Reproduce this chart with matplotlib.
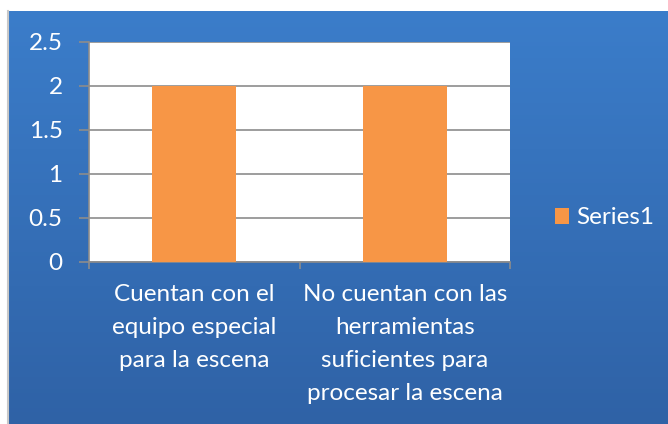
import matplotlib
matplotlib.use("Agg")
import matplotlib.pyplot as plt
import numpy as np
from matplotlib.colors import LinearSegmentedColormap

categories = ["Cuentan con el\nequipo especial\npara la escena",
              "No cuentan con las\nherramientas\nsuficientes para\nprocesar la escena"]
values = [2, 2]
series_name = "Series1"
yticks = [0, 0.5, 1, 1.5, 2, 2.5]
ytick_labels = ["0", "0.5", "1", "1.5", "2", "2.5"]

W, H = 668, 424
fig = plt.figure(figsize=(W/100, H/100), dpi=100)
fig.patch.set_facecolor("white")

# gradient background
bg = fig.add_axes([9/W, 0, 1-9/W, (H-11)/H])
cmap = LinearSegmentedColormap.from_list("bl", ["#3B7DCA", "#2F62A6"])
grad = np.linspace(0, 1, 256).reshape(-1, 1)
bg.imshow(grad, aspect="auto", cmap=cmap, extent=[0, 1, 0, 1], origin="upper")
bg.set_axis_off()
fig.add_artist(plt.Line2D([8/W, 8/W], [0, (H-11)/H], color="#C8C8C8", lw=1.5, transform=fig.transFigure))

font = "Lato"
fs = 17.5
ax = fig.add_axes([89/W, (H-262)/H, (510-89)/W, (262-42)/H])
ax.set_facecolor("white")
x = np.arange(len(categories))
bars = ax.bar(x, values, width=0.4, color="#F79646", label=series_name, zorder=3)
ax.set_xlim(-0.5, 1.5)
ax.set_ylim(0, 2.5)
ax.set_yticks(yticks)
ax.set_yticklabels(ytick_labels, fontsize=fs, color="white", fontfamily=font)
ax.yaxis.grid(True, color="#8C8C8C", lw=1.2, zorder=1)
ax.tick_params(axis="y", length=7, color="#8C8C8C", width=1.2, pad=12)
ax.set_xticks([-0.5, 0.5, 1.5])
ax.set_xticklabels([])
ax.tick_params(axis="x", length=5, color="#8C8C8C", width=1.2, direction="out")
for i, c in enumerate(categories):
    ax.text(i, -0.25, c, ha="center", va="top", fontsize=fs, color="white",
            fontfamily=font, linespacing=1.7, transform=ax.transData)
for s in ["top", "right"]:
    ax.spines[s].set_visible(False)
for s in ["left", "bottom"]:
    ax.spines[s].set_color("#8C8C8C")
    ax.spines[s].set_linewidth(1.2)

leg = fig.legend(handles=[bars], labels=[series_name], loc="center left",
                 bbox_to_anchor=(545/W, (H-218)/H), frameon=False,
                 prop={"family": font, "size": fs}, handlelength=0.6, handleheight=0.6,
                 handletextpad=0.3, borderaxespad=0)
for t in leg.get_texts():
    t.set_color("white")

fig.savefig("out.png", dpi=100, facecolor="white")
